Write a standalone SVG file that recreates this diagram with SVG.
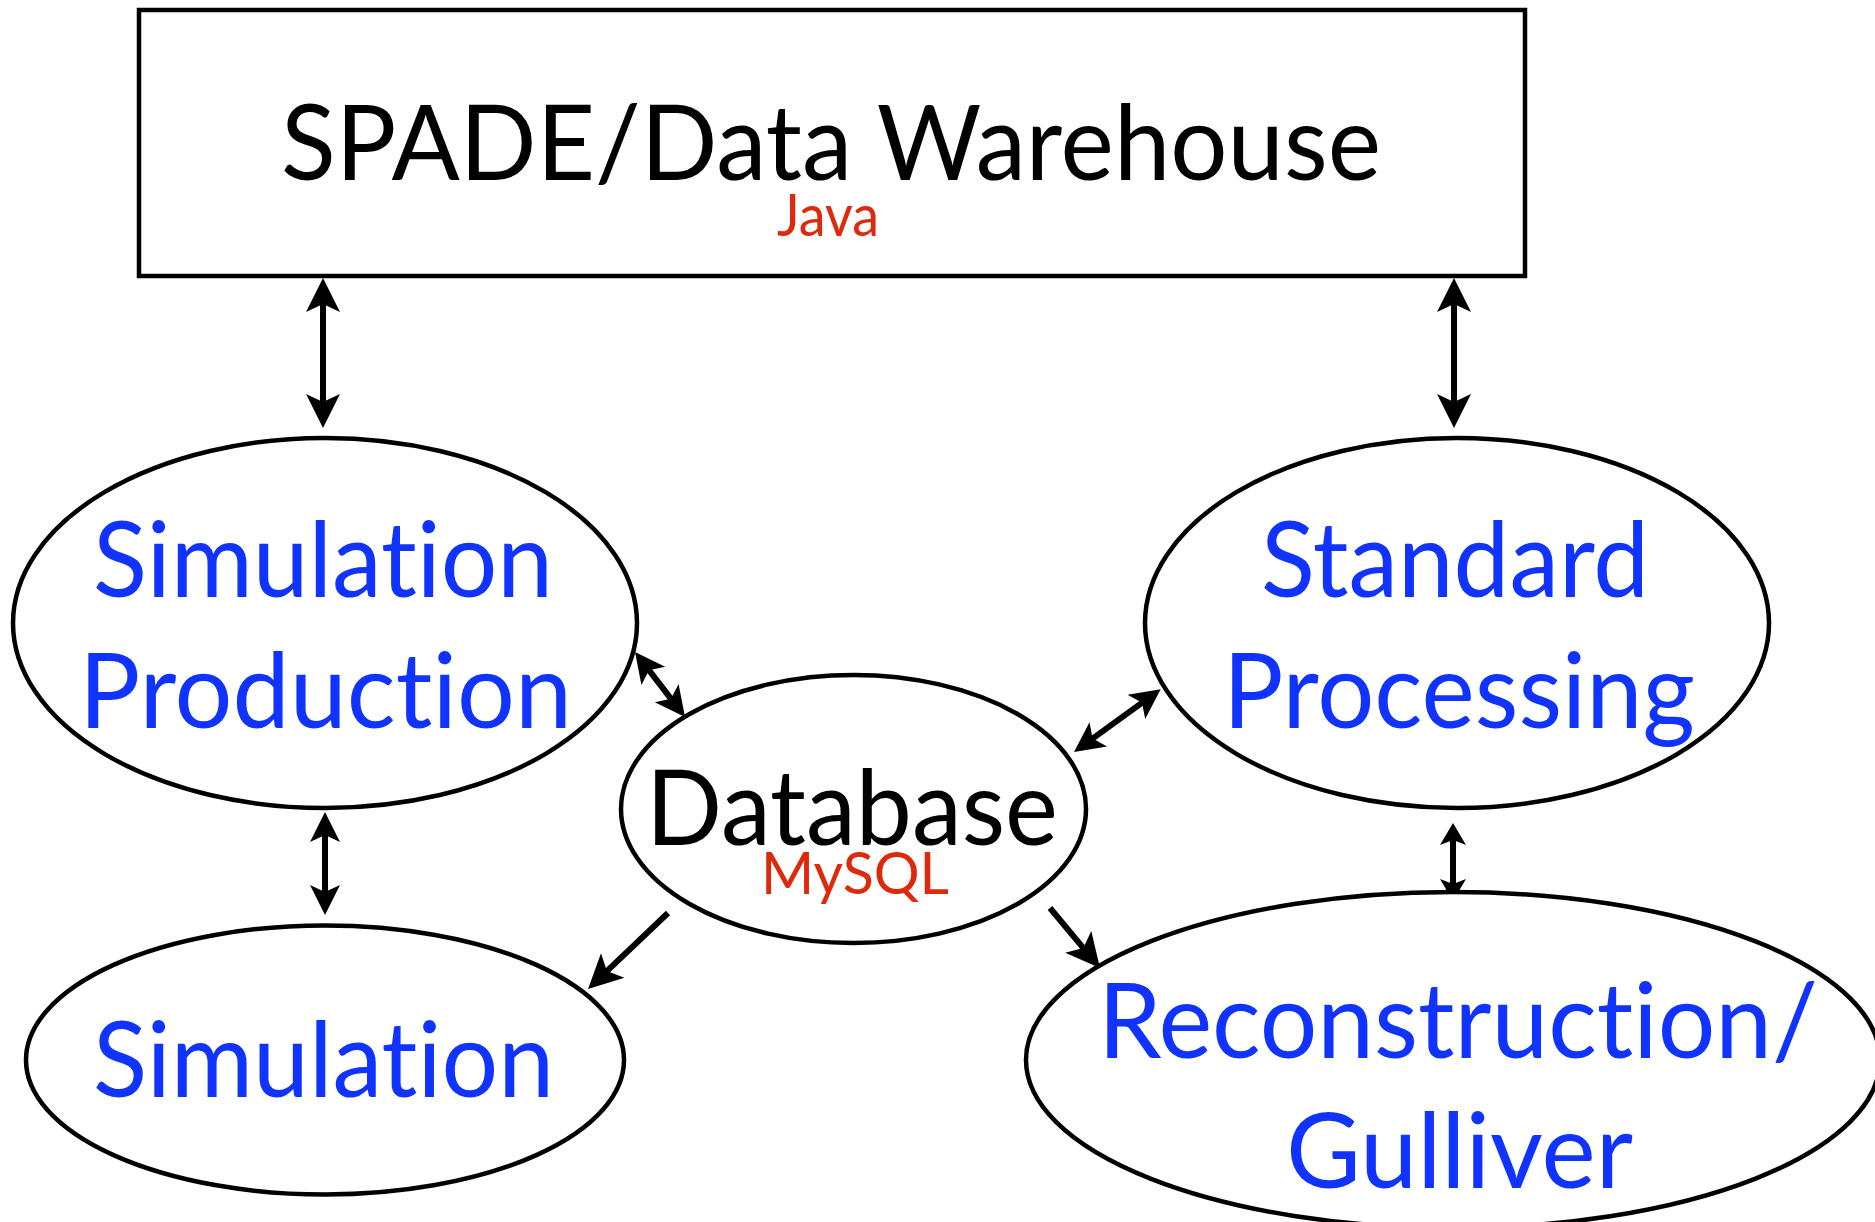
<svg xmlns="http://www.w3.org/2000/svg" width="1875" height="1222" viewBox="0 0 1875 1222">
  <style>
    .shape { fill: #ffffff; stroke: #000000; stroke-width: 4.5; }
    .lbl { font-family: "Lato", "Open Sans", "Liberation Sans", sans-serif; text-anchor: middle; font-variant-ligatures: none; font-feature-settings: "liga" 0, "clig" 0; }
    .blue { fill: #1033ff; font-size: 105px; }
    .black { fill: #000000; font-size: 105px; }
    .red { fill: #dd2a0c; font-size: 59px; }
    .link { stroke: #000000; stroke-width: 6; fill: none; }
    .head { fill: #000000; stroke: none; }
  </style>
  <defs>
    <marker id="arrowBig" markerUnits="userSpaceOnUse" markerWidth="36" markerHeight="36" viewBox="0 -18 36 36" refX="12" refY="0" orient="auto-start-reverse">
      <path class="head" d="M0,-17 L34,0 L0,17 L8,0 Z"/>
    </marker>
    <marker id="arrowMid" markerUnits="userSpaceOnUse" markerWidth="32" markerHeight="32" viewBox="0 -16 32 32" refX="11" refY="0" orient="auto-start-reverse">
      <path class="head" d="M0,-15 L30,0 L0,15 L7,0 Z"/>
    </marker>
    <marker id="arrowSmall" markerUnits="userSpaceOnUse" markerWidth="24" markerHeight="28" viewBox="0 -14 24 28" refX="8" refY="0" orient="auto-start-reverse">
      <path class="head" d="M0,-13 L22,0 L0,13 L5,0 Z"/>
    </marker>
  </defs>

  <rect width="1875" height="1222" fill="#ffffff"/>

  <!-- connectors -->
  <g id="connectors">
    <line class="link" x1="323" y1="300" x2="323" y2="406" marker-start="url(#arrowBig)" marker-end="url(#arrowBig)"/>
    <line class="link" x1="1454" y1="300" x2="1454" y2="406" marker-start="url(#arrowBig)" marker-end="url(#arrowBig)"/>
    <line class="link" x1="325" y1="831" x2="325" y2="896" marker-start="url(#arrowMid)" marker-end="url(#arrowMid)"/>
    <line class="link" x1="1453" y1="837" x2="1453" y2="887" marker-start="url(#arrowSmall)" marker-end="url(#arrowSmall)"/>
    <line class="link" x1="646.6" y1="667.1" x2="673.4" y2="701.9" marker-start="url(#arrowMid)" marker-end="url(#arrowMid)"/>
    <line class="link" x1="1089.4" y1="740.9" x2="1145.3" y2="700.4" marker-start="url(#arrowMid)" marker-end="url(#arrowMid)"/>
    <line class="link" x1="668" y1="913" x2="604" y2="973.8" marker-end="url(#arrowBig)"/>
    <line class="link" x1="1050" y1="908" x2="1085.9" y2="951.1" marker-end="url(#arrowBig)"/>
  </g>

  <!-- SPADE / Data Warehouse -->
  <g id="warehouse">
    <rect class="shape" x="139" y="10" width="1386" height="266"/>
    <text class="lbl black" x="831" y="180" font-size="106" textLength="1100" lengthAdjust="spacingAndGlyphs">SPADE/Data Warehouse</text>
    <text class="lbl red" x="828" y="236" textLength="102" lengthAdjust="spacingAndGlyphs">Java</text>
  </g>

  <!-- Simulation Production -->
  <g id="simulation-production">
    <ellipse class="shape" cx="325" cy="623" rx="312" ry="185"/>
    <text class="lbl blue" x="323" y="597" textLength="460" lengthAdjust="spacingAndGlyphs">Simulation</text>
    <text class="lbl blue" x="325.5" y="728" textLength="493" lengthAdjust="spacingAndGlyphs">Production</text>
  </g>

  <!-- Standard Processing -->
  <g id="standard-processing">
    <ellipse class="shape" cx="1457" cy="623" rx="312" ry="185"/>
    <text class="lbl blue" x="1455" y="597" textLength="388" lengthAdjust="spacingAndGlyphs">Standard</text>
    <text class="lbl blue" x="1459" y="728" textLength="472" lengthAdjust="spacingAndGlyphs">Processing</text>
  </g>

  <!-- Database -->
  <g id="database">
    <ellipse class="shape" cx="853.5" cy="809" rx="232.5" ry="134"/>
    <text class="lbl black" x="852" y="845" font-size="104" textLength="412" lengthAdjust="spacingAndGlyphs">Database</text>
    <text class="lbl red" x="855" y="894" font-size="57" textLength="188" lengthAdjust="spacingAndGlyphs">MySQL</text>
  </g>

  <!-- Simulation -->
  <g id="simulation">
    <ellipse class="shape" cx="325" cy="1060" rx="299" ry="134.5"/>
    <text class="lbl blue" x="323.5" y="1097" textLength="461" lengthAdjust="spacingAndGlyphs">Simulation</text>
  </g>

  <!-- Reconstruction / Gulliver -->
  <g id="reconstruction">
    <ellipse class="shape" cx="1453" cy="1060" rx="427" ry="168"/>
    <text class="lbl blue" x="1458" y="1058" textLength="720" lengthAdjust="spacingAndGlyphs">Reconstruction/</text>
    <text class="lbl blue" x="1459.5" y="1188" textLength="347" lengthAdjust="spacingAndGlyphs">Gulliver</text>
  </g>
</svg>
